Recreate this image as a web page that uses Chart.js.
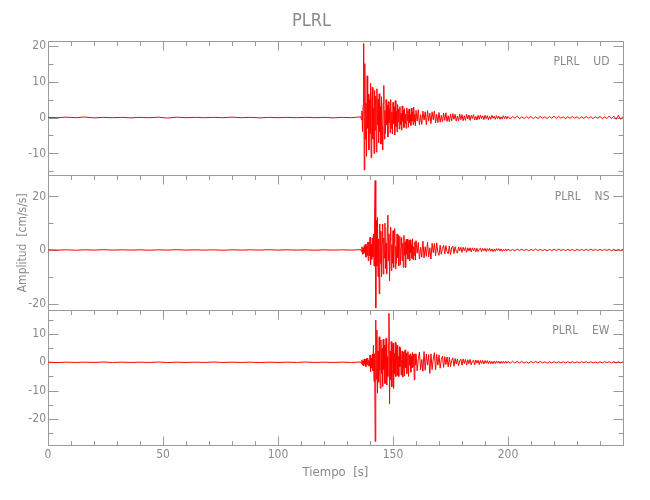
<!DOCTYPE html>
<html>
<head>
<meta charset="utf-8">
<script src="https://cdn.jsdelivr.net/npm/chart.js@4.4.0/dist/chart.umd.min.js"></script>
<style>
  html, body { margin: 0; padding: 0; background: #fff; }
</style>
</head>
<body>
<canvas id="sismo" width="650" height="500"></canvas>
<script>
const estacion = "PLRL";
const componentes = ["UD", "NS", "EW"];

// muestreo por tramos: quieto cada 4 s, fuerte cada 0.25 s, medio cada 0.5 s, cola cada 1 s
const quietStart = 0, quietStep = 4;
const fuerteStart = 136, fuerteStep = 0.25;
const medioStart = 160, medioStep = 0.5;
const colaStart = 200, colaStep = 1;

const quietUD = [0.05, -0.05, 0.1, -0.05, 0.15, -0.1, 0.05, -0.05, 0.05, -0.1, 0.05, -0.05, 0.1, -0.15, 0.1, -0.05, 0.05,
    -0.05, 0.05, -0.05, 0.1, -0.05, 0.05, -0.1, 0.05, -0.05, 0.05, -0.05, 0.05, -0.05, 0.05, -0.1, 0.05, -0.05];
const fuerteUD = [0.2, -0.6, 1.8, -3.9, 3.4, 20.6, -14.6, 15.0, -6.0, 4.0,
    -10.8, 11.6, -3.0, 6.5, -9.0, 5.0, -4.5, 9.5, -11.2, 3.5,
    8.4, -6.0, 2.5, -10.0, 7.5, -3.5, 6.0, -9.6, 8.0, -2.0,
    5.0, -7.0, 6.6, -4.0, 3.0, -7.4, 5.8, -2.5, -9.0, 4.0,
    8.9, -6.0, 2.0, -4.5, 5.0, -2.0, 3.5, -5.4, 4.4, -1.5,
    2.5, -4.2, 5.0, -3.0, 1.5, -4.6, 4.2, -1.8, 3.0, -4.8,
    4.7, -2.5, 1.8, -4.0, 3.6, -1.2, 2.4, -3.2, 3.0, -2.0,
    1.2, -3.5, 3.2, -1.0, 2.0, -2.8, 2.5, -1.6, 1.0, -3.0,
    2.7, -0.8, 1.9, -2.7, 2.4, -1.4, 0.8, -2.2, 2.6, -1.0,
    1.5, -2.0, 2.9, -1.2, 0.9, -2.3];
const medioUD = [2.0, -1.0, 2.2, -2.1, 0.8, -1.9, 1.8, -0.7, 1.6, -2.0,
    1.9, -0.9, 1.2, -1.7, 1.6, -0.6, 1.8, -1.5, 0.9, -1.4,
    1.4, -1.3, 0.6, -1.2, 1.2, -0.8, 1.3, -1.1, 0.5, -1.2,
    1.0, -0.9, 1.1, -0.5, 0.9, -1.0, 0.4, -0.9, 1.0, -0.6,
    0.8, -0.9, 0.5, -0.8, 0.9, -0.4, 0.7, -0.8, 0.6, -0.3,
    0.8, -0.7, 0.3, -0.7, 0.6, -0.5, 0.7, -0.3, 0.5, -0.6,
    0.6, -0.3, 0.5, -0.6, 0.3, -0.5, 0.6, -0.2, 0.4, -0.5,
    0.5, -0.3, 0.4, -0.5, 0.2, -0.4, 0.5, -0.3, 0.4, -0.4];
const colaUD = [0.3, -0.4, 0.3, -0.2, 0.4, -0.3, 0.2, -0.3, 0.3, -0.2,
    0.3, -0.3, 0.2, -0.3, 0.3, -0.2, 0.2, -0.3, 0.3, -0.2,
    0.4, -0.3, 0.3, -0.2, 0.2, -0.3, 0.2, -0.2, 0.3, -0.2,
    0.2, -0.3, 0.2, -0.2, 0.3, -0.2, 0.2, -0.3, 0.2, -0.2,
    0.3, -0.3, 0.2, -0.3, 0.4, -0.3, 0.4, -0.5, 0.6, -0.5, 0.3];

const quietNS = [0.05, -0.05, 0.05, -0.1, 0.05, -0.05, 0.1, -0.05, 0.05, -0.05, 0.05, -0.1, 0.05, -0.05, 0.1, -0.05, 0.05,
    -0.05, 0.05, -0.1, 0.05, -0.05, 0.05, -0.05, 0.1, -0.05, 0.05, -0.05, 0.05, -0.1, 0.05, -0.05, 0.05, -0.05];
const fuerteNS = [0.1, -0.5, 1.2, -1.6, 0.8, -1.4, 1.6, -0.9, 2.2, -2.7,
    1.4, -2.0, 2.9, -4.0, 3.0, -2.2, 4.7, -5.5, 2.0, -3.5,
    4.5, -2.5, 6.0, -6.0, 12.0, 25.9, -21.7, 11.0, -6.0, 12.2,
    -10.0, 4.0, -16.4, 9.7, -5.0, 7.0, -10.0, 3.0, 9.7, -9.0,
    4.5, -3.0, 10.0, -7.0, 2.5, -9.0, 8.5, 13.0, -4.0, 6.0,
    -11.5, 3.5, 8.5, -7.7, 2.0, -5.0, 7.2, -6.5, 3.0, 8.0,
    -7.0, 1.5, -5.0, 6.0, -3.0, 5.4, -6.0, 2.0, 5.0, -5.5,
    1.0, 4.6, -4.0, 2.5, -6.5, 5.4, -2.0, 3.0, -6.5, 4.0,
    -1.5, 4.0, -3.4, 1.5, 3.5, -4.0, 3.8, -1.0, 2.0, -3.2,
    4.2, -3.6, 1.2, -2.0, 3.0, -3.8];
const medioNS = [3.5, -1.2, 2.8, -3.4, 1.0, -2.7, 3.3, -3.0, 1.2, -2.4,
    2.9, -2.6, 0.8, -3.4, 2.5, -1.0, 2.4, -2.2, 2.7, -0.9,
    -2.0, 1.8, -1.6, 0.6, 1.7, -1.5, 1.6, -0.6, -1.4, 1.5,
    -1.7, 0.8, 1.4, -1.3, 1.2, -0.5, -1.2, 1.1, -0.4, 1.0,
    -0.9, 1.0, -0.3, 0.9, -0.9, 0.8, -0.4, 0.8, -0.7, 0.8,
    -0.3, 0.7, -0.7, 0.6, -0.6, 0.3, 0.7, -0.6, 0.6, -0.3,
    0.6, -0.6, 0.5, -0.3, 0.6, -0.5, 0.4, -0.6, 0.3, -0.5,
    0.5, -0.2, 0.5, -0.4, 0.4, -0.5, 0.2, -0.4, 0.4, -0.3];
const colaNS = [0.3, -0.3, 0.2, -0.3, 0.3, -0.2, 0.3, -0.2, 0.2, -0.3,
    0.2, -0.2, 0.3, -0.2, 0.2, -0.2, 0.2, -0.3, 0.2, -0.2,
    0.2, -0.2, 0.3, -0.2, 0.2, -0.2, 0.2, -0.2, 0.2, -0.3,
    0.2, -0.2, 0.2, -0.2, 0.2, -0.2, 0.3, -0.2, 0.2, -0.2,
    0.2, -0.2, 0.2, -0.2, 0.2, -0.3, 0.2, -0.2, 0.2, -0.2, 0.2];

const quietEW = [0.05, -0.1, 0.05, -0.05, 0.05, -0.05, 0.1, -0.05, 0.05, -0.05, 0.05, -0.05, 0.1, -0.1, 0.05, -0.05, 0.05,
    -0.05, 0.1, -0.05, 0.05, -0.05, 0.05, -0.1, 0.05, -0.05, 0.05, -0.05, 0.1, -0.05, 0.05, -0.05, 0.05, -0.05];
const fuerteEW = [0.1, -0.4, 0.9, -1.0, 0.5, -1.3, 1.2, -0.6, 1.0, -1.5,
    1.4, -0.8, 1.5, -1.2, 0.7, -1.4, 2.6, -3.3, 1.5, -2.0,
    2.8, -3.0, 6.0, -6.8, 3.0, -27.9, 14.9, -6.0, 11.4, -10.9,
    4.0, -7.0, 9.0, -3.0, -9.2, 7.9, -4.0, 5.0, -8.5, 8.2,
    -2.5, 6.0, -7.5, 3.0, 8.5, -8.0, 2.0, -5.0, 6.5, 17.3,
    -14.7, 4.0, -6.0, 7.3, -8.6, 2.5, 6.7, -9.2, 3.0, -4.0,
    7.0, -5.0, 1.5, 6.1, -4.6, 2.0, -5.0, 5.5, -1.5, 4.9,
    -4.5, 1.0, 4.0, -5.2, 3.6, -1.5, -4.8, 4.4, -2.0, 3.2,
    -4.0, 1.2, 3.8, -5.0, 2.5, -1.0, 3.0, -3.5, 2.0, -2.0,
    3.5, -1.5, 2.8, -6.2, 3.0, -1.0];
const medioEW = [3.0, -3.0, 1.2, 3.6, -2.7, 1.0, -3.2, 3.8, -2.8, 2.9,
    -1.0, 2.7, -3.9, 3.0, -2.6, 1.2, 3.4, -2.7, 2.8, -1.0,
    2.6, -2.1, 1.0, 2.2, -1.8, 2.0, -0.8, 1.9, -1.6, 1.8,
    -1.5, 0.6, 1.6, -1.4, 1.3, -0.6, 1.2, -1.2, 0.5, 1.1,
    -1.0, 1.2, -0.4, 1.0, -1.0, 0.9, -0.5, 1.0, -0.9, 0.4,
    0.8, -0.9, 0.8, -0.3, 0.7, -0.8, 0.7, -0.4, 0.7, -0.6,
    0.6, -0.3, 0.6, -0.5, 0.5, -0.5, 0.3, -0.5, 0.4, -0.4,
    0.5, -0.3, 0.4, -0.4, 0.3, -0.4, 0.4, -0.3, 0.4, -0.3];
const colaEW = [0.3, -0.3, 0.4, -0.3, 0.3, -0.2, 0.3, -0.3, 0.2, -0.3,
    0.3, -0.2, 0.3, -0.2, 0.3, -0.2, 0.2, -0.3, 0.2, -0.2,
    0.2, -0.2, 0.2, -0.2, 0.2, -0.2, 0.2, -0.2, 0.2, -0.2,
    0.2, -0.2, 0.2, -0.1, 0.2, -0.2, 0.2, -0.2, 0.1, -0.2,
    0.2, -0.2, 0.2, -0.1, 0.2, -0.2, 0.2, -0.2, 0.2, -0.2, 0.2];

const fuente = '"Liberation Sans Narrow", "DejaVu Sans Condensed", "Open Sans", sans-serif';
const grisTexto = '#8a8a8a';
const grisEje = '#9a9a9a';

// junta los tramos de una componente en puntos {x, y}
function traza(quiet, fuerte, medio, cola) {
    const pts = [];
    quiet.forEach((v, i) => pts.push({ x: quietStart + i * quietStep, y: v }));
    fuerte.forEach((v, i) => pts.push({ x: fuerteStart + i * fuerteStep, y: v }));
    medio.forEach((v, i) => pts.push({ x: medioStart + i * medioStep, y: v }));
    cola.forEach((v, i) => pts.push({ x: colaStart + i * colaStep, y: v }));
    return pts;
}

// un panel por componente: eje, rango y paso de ticks
const paneles = [
    { eje: 'yUD', comp: componentes[0], min: -16.1, max: 21.4, mayor: 10, menor: 5,
      datos: traza(quietUD, fuerteUD, medioUD, colaUD) },
    { eje: 'yNS', comp: componentes[1], min: -22.5, max: 27.85, mayor: 20, menor: 10,
      datos: traza(quietNS, fuerteNS, medioNS, colaNS) },
    { eje: 'yEW', comp: componentes[2], min: -29.2, max: 18.4, mayor: 10, menor: 5,
      datos: traza(quietEW, fuerteEW, medioEW, colaEW) }
];

const marcoPlugin = {
    id: 'marco',
    beforeDatasetsDraw(chart) {
        const { ctx, chartArea: ca, scales } = chart;
        const x = scales.x;
        const L = Math.round(ca.left) + 0.5, R = Math.round(ca.right) + 0.5;
        ctx.save();
        ctx.strokeStyle = grisEje;
        ctx.lineWidth = 1;
        ctx.beginPath();
        paneles.forEach((p, k) => {
            const s = scales[p.eje];
            const top = Math.round(s.top) + 0.5, bot = Math.round(s.bottom) + 0.5;
            ctx.rect(L, top, R - L, bot - top);
            for (let i = Math.ceil(s.min / p.menor); i * p.menor <= s.max; i++) {
                const v = i * p.menor;
                const py = Math.round(s.getPixelForValue(v)) + 0.5;
                const len = v % p.mayor === 0 ? 10 : 5;
                ctx.moveTo(L, py); ctx.lineTo(L + len, py);
                ctx.moveTo(R, py); ctx.lineTo(R - len, py);
            }
            for (let t = 0; t <= x.max; t += 10) {
                const px = Math.round(x.getPixelForValue(t)) + 0.5;
                const len = t % 50 === 0 ? 9 : 4.5;
                ctx.moveTo(px, top); ctx.lineTo(px, top + len);
                if (k === paneles.length - 1) {
                    ctx.moveTo(px, bot); ctx.lineTo(px, bot - len);
                }
            }
        });
        ctx.stroke();
        ctx.fillStyle = grisTexto;
        ctx.font = '12px ' + fuente;
        ctx.textAlign = 'right';
        ctx.textBaseline = 'middle';
        paneles.forEach(p => {
            const s = scales[p.eje];
            ctx.fillText(estacion + '    ' + p.comp, R - 14, s.top + 21);
        });
        ctx.restore();
    }
};

function ejeY(p, conTitulo) {
    return {
        type: 'linear',
        position: 'left',
        stack: 'paneles',
        stackWeight: 1,
        min: p.min,
        max: p.max,
        grid: { display: false, drawTicks: false },
        border: { display: false },
        ticks: { stepSize: p.mayor, includeBounds: false, color: grisTexto, padding: 2, font: { size: 12 } },
        title: {
            display: conTitulo,
            text: 'Amplitud  [cm/s/s]',
            color: grisTexto,
            font: { size: 12 },
            padding: { top: 16, bottom: 0 }
        },
        afterFit(s) { s.width = 48; }
    };
}

Chart.defaults.font.family = fuente;

new Chart("sismo", {
    type: "line",
    data: {
        datasets: paneles.map(p => ({
            label: estacion + ' ' + p.comp,
            data: p.datos,
            yAxisID: p.eje,
            borderColor: '#ff0000',
            borderWidth: 1,
            pointRadius: 0,
            tension: 0
        }))
    },
    options: {
        responsive: false,
        animation: false,
        devicePixelRatio: 1,
        layout: { autoPadding: false, padding: { left: 0, right: 27, top: 0, bottom: 0 } },
        plugins: {
            legend: { display: false },
            tooltip: { enabled: false },
            title: {
                display: true,
                text: estacion,
                color: grisTexto,
                font: { size: 18, weight: 'normal' },
                padding: { top: 11, bottom: 8 }
            }
        },
        scales: {
            x: {
                type: 'linear',
                position: 'bottom',
                min: 0,
                max: 250,
                grid: { display: false, drawTicks: false },
                border: { display: false },
                ticks: {
                    stepSize: 50,
                    color: grisTexto,
                    padding: 3,
                    maxRotation: 0,
                    font: { size: 12 },
                    callback: v => (v < 250 ? v : '')
                },
                title: {
                    display: true,
                    text: 'Tiempo  [s]',
                    color: grisTexto,
                    font: { size: 13 },
                    padding: { top: 0, bottom: 20 }
                },
                afterFit(s) { s.height = 55; }
            },
            yEW: ejeY(paneles[2], false),
            yNS: ejeY(paneles[1], true),
            yUD: ejeY(paneles[0], false)
        }
    },
    plugins: [marcoPlugin]
});
</script>
</body>
</html>
